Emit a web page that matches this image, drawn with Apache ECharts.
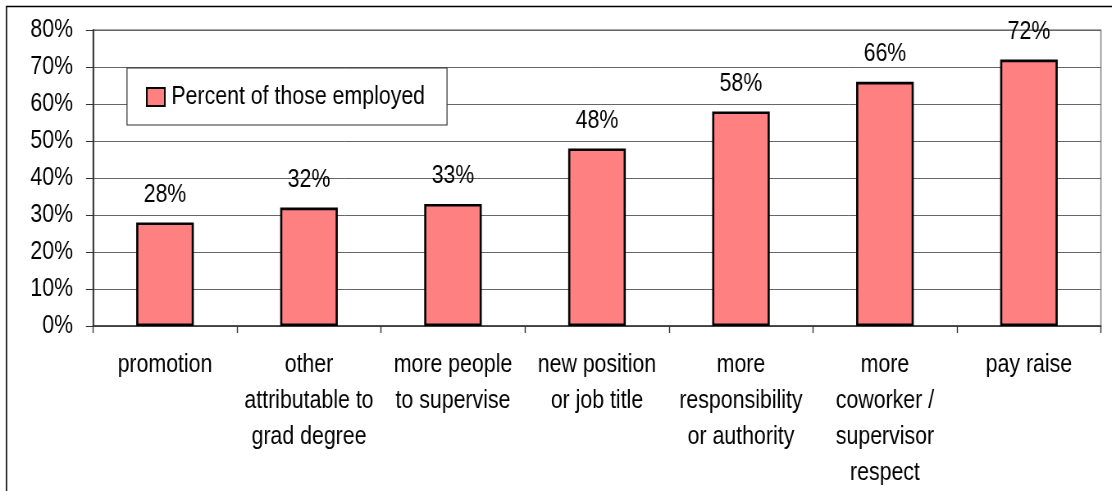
<!DOCTYPE html>
<html><head><meta charset="utf-8">
<script src="https://cdn.jsdelivr.net/npm/echarts@6/dist/echarts.min.js"></script>
<style>
html,body{margin:0;padding:0;background:#fff;overflow:hidden;width:1112px;height:491px}
#c{width:1356px;height:491px;transform:scaleX(0.82);transform-origin:0 0}
</style>
</head><body><div id="c"></div>
<script>
const categories = ['promotion', 'other\nattributable to\ngrad degree', 'more people\nto supervise', 'new position\nor job title', 'more\nresponsibility\nor authority', 'more\ncoworker /\nsupervisor\nrespect', 'pay raise'];
const seriesName = 'Percent of those employed';
const values = [28, 32, 33, 48, 58, 66, 72];
const yTicks = [0, 10, 20, 30, 40, 50, 60, 70, 80];

// horizontal compression factor emulating the narrow typeface of the original
const S = 0.82;
const X = v => v / S;
const font = '"Liberation Sans", Arial, sans-serif';
const fs = 26;
const chart = echarts.init(document.getElementById('c'), null, {renderer: 'canvas'});
chart.setOption({
  animation: false,
  textStyle: {fontFamily: font},
  graphic: [{type: 'rect', shape: {x: X(6.5), y: 6.5, width: 1600, height: 600}, style: {fill: 'none', stroke: '#000', lineWidth: 1.6}, z: 100}],
  grid: {left: X(93), right: X(11), top: 30, bottom: 165, show: true, borderColor: '#8a8a8a', borderWidth: 1.6},
  legend: {
    left: X(127), top: 68, orient: 'horizontal',
    backgroundColor: '#fff', borderColor: '#333', borderWidth: 1.2,
    padding: [16, X(22), 15, X(19)], itemWidth: X(18), itemHeight: 18, itemGap: 6,
    textStyle: {fontSize: fs, color: '#000', fontFamily: font, padding: [0, 0, 0, 3]},
    data: [{name: seriesName, icon: 'rect'}]
  },
  xAxis: {
    type: 'category', data: categories,
    axisLine: {lineStyle: {color: '#333', width: 1.5}},
    axisTick: {show: true, length: 7, lineStyle: {color: '#333', width: 1.4}},
    axisLabel: {fontSize: fs, color: '#000', lineHeight: 36, margin: 21, interval: 0, fontFamily: font}
  },
  yAxis: {
    type: 'value', min: 0, max: 80, interval: 10,
    axisLine: {show: true, lineStyle: {color: '#333', width: 1.8}},
    axisTick: {show: true, length: X(7), lineStyle: {color: '#333'}},
    splitLine: {show: true, lineStyle: {color: '#666', width: 1}},
    axisLabel: {fontSize: fs, color: '#000', margin: X(20), fontFamily: font,
      formatter: v => yTicks.includes(v) ? v + '%' : ''}
  },
  series: [{
    name: seriesName, type: 'bar', data: values, barWidth: '40%',
    itemStyle: {color: '#FF8080', borderColor: '#000', borderWidth: 2.6},
    label: {show: true, position: 'top', distance: 15, fontSize: fs, color: '#000', fontFamily: font, formatter: p => p.value + '%'}
  }]
});
</script></body></html>
